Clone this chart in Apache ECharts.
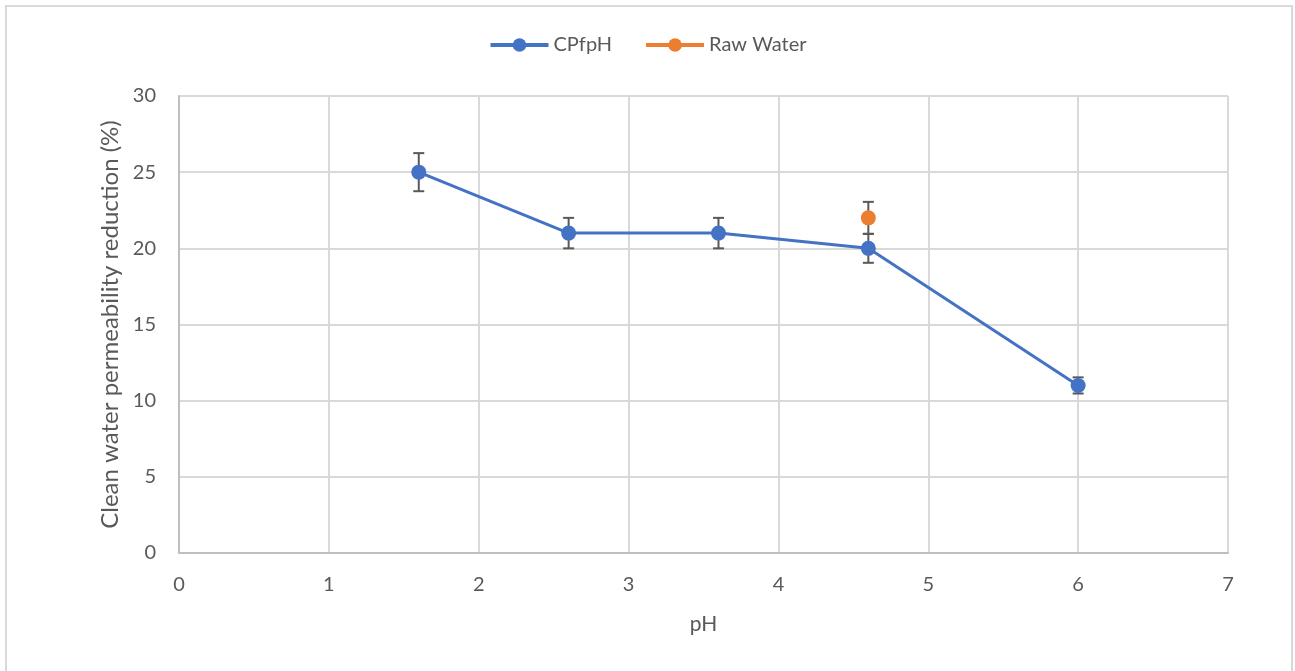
<!DOCTYPE html>
<html>
<head>
<meta charset="utf-8">
<title>Clean water permeability reduction vs pH</title>
<script src="https://cdn.jsdelivr.net/npm/echarts@6/dist/echarts.min.js"></script>
<style>
  html, body { margin: 0; padding: 0; background: #ffffff; }
  #chart { width: 1295px; height: 671px; }
</style>
</head>
<body>
<div id="chart"></div>
<script>
// pH values and permeability reduction (%) with symmetric error
const cpfphX = [1.6, 2.6, 3.6, 4.6, 6];
const cpfphY = [25, 21, 21, 20, 11];
const cpfphErr = [1.25, 1.0, 1.0, 0.95, 0.53];

const rawX = [4.6];
const rawY = [22];
const rawErr = [1.05];

const xTicks = [0, 1, 2, 3, 4, 5, 6, 7];
const yTicks = [0, 5, 10, 15, 20, 25, 30];

const FONT = 'Lato, "Open Sans", sans-serif';
const TEXT = '#595959';

function pairs(xs, ys) { return xs.map((x, i) => [x, ys[i]]); }
function errData(xs, ys, es) { return xs.map((x, i) => [x, ys[i] - es[i], ys[i] + es[i]]); }

// whisker drawn in data space: vertical stem plus caps
function renderErr(params, api) {
  const x = api.value(0);
  const lo = api.coord([x, api.value(1)]);
  const hi = api.coord([x, api.value(2)]);
  const half = 5.5;
  const style = { stroke: '#595959', lineWidth: 2, fill: null };
  return {
    type: 'group',
    children: [
      { type: 'line', shape: { x1: lo[0], y1: lo[1], x2: hi[0], y2: hi[1] }, style },
      { type: 'line', shape: { x1: lo[0] - half, y1: lo[1], x2: lo[0] + half, y2: lo[1] }, style },
      { type: 'line', shape: { x1: hi[0] - half, y1: hi[1], x2: hi[0] + half, y2: hi[1] }, style }
    ]
  };
}

const chart = echarts.init(document.getElementById('chart'), null, { renderer: 'canvas' });

chart.setOption({
  backgroundColor: '#ffffff',
  animation: false,
  textStyle: { fontFamily: FONT, color: TEXT },
  graphic: [{
    type: 'rect',
    shape: { x: 6, y: 6, width: 1286, height: 680 },
    style: { fill: null, stroke: '#d9d9d9', lineWidth: 2 },
    silent: true
  }],
  legend: {
    top: 30,
    left: 'center',
    itemWidth: 58,
    itemHeight: 17,
    itemGap: 32,
    lineStyle: { width: 4 },
    textStyle: { fontFamily: FONT, fontSize: 20, color: TEXT },
    data: ['CPfpH', 'Raw Water']
  },
  grid: { left: 179, right: 67, top: 96, bottom: 118 },
  xAxis: {
    type: 'value',
    min: 0, max: 7, interval: 1,
    name: 'pH',
    nameLocation: 'middle',
    nameGap: 61,
    nameTextStyle: { fontFamily: FONT, fontSize: 21, color: TEXT },
    axisLine: { show: true, lineStyle: { color: '#bfbfbf', width: 2 } },
    axisTick: { show: false },
    axisLabel: {
      fontFamily: FONT, fontSize: 20, color: TEXT, margin: 22,
      formatter: v => xTicks.includes(v) ? String(v) : ''
    },
    splitLine: { show: true, lineStyle: { color: '#d9d9d9', width: 2 } }
  },
  yAxis: {
    type: 'value',
    min: 0, max: 30, interval: 5,
    name: 'Clean water permeability reduction (%)',
    nameLocation: 'middle',
    nameGap: 52,
    nameTextStyle: { fontFamily: FONT, fontSize: 24, color: TEXT },
    axisLine: { show: true, lineStyle: { color: '#bfbfbf', width: 2 } },
    axisTick: { show: false },
    axisLabel: {
      fontFamily: FONT, fontSize: 20, color: TEXT, margin: 23,
      formatter: v => yTicks.includes(v) ? String(v) : ''
    },
    splitLine: { show: true, lineStyle: { color: '#d9d9d9', width: 2 } }
  },
  series: [
    {
      name: 'CPfpH',
      type: 'line',
      data: pairs(cpfphX, cpfphY),
      symbol: 'circle',
      symbolSize: 15,
      z: 3,
      lineStyle: { color: '#4472C4', width: 3 },
      itemStyle: { color: '#4472C4' }
    },
    {
      name: 'Raw Water',
      type: 'line',
      data: pairs(rawX, rawY),
      symbol: 'circle',
      symbolSize: 15,
      z: 3,
      lineStyle: { color: '#ED7D31', width: 3 },
      itemStyle: { color: '#ED7D31' }
    },
    {
      type: 'custom',
      name: 'CPfpH error',
      renderItem: renderErr,
      data: errData(cpfphX, cpfphY, cpfphErr),
      encode: { x: 0, y: [1, 2] },
      z: 2,
      silent: true
    },
    {
      type: 'custom',
      name: 'Raw Water error',
      renderItem: renderErr,
      data: errData(rawX, rawY, rawErr),
      encode: { x: 0, y: [1, 2] },
      z: 2,
      silent: true
    }
  ]
});
</script>
</body>
</html>
